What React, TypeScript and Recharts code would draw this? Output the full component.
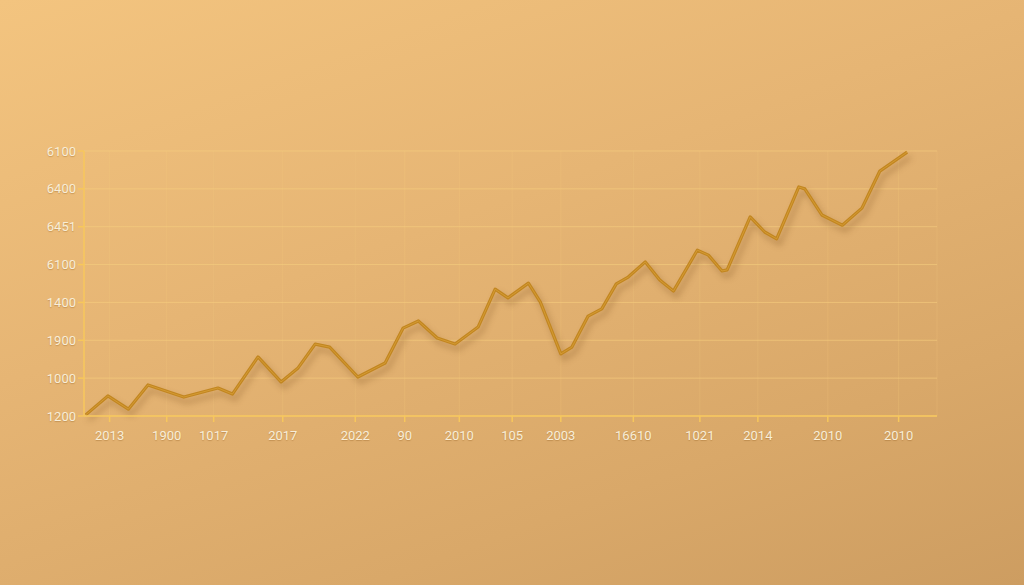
import React from "react";
import { LineChart, Line, XAxis, YAxis, CartesianGrid } from "recharts";

// x positions (0..100 along the axis) and values (0..7 on the grid scale)
const xPos = [0.2, 2.8, 5.2, 7.5, 11.7, 15.7, 17.4, 20.4, 23.1, 25.1, 27.1, 28.8, 32.1, 35.3, 37.4, 39.2, 41.4, 43.5, 46.2, 48.2, 49.7, 52.1, 53.5, 55.9, 57.2, 59.1, 60.7, 62.4, 63.8, 65.8, 67.5, 69.1, 71.9, 73.2, 74.8, 75.4, 78.1, 79.8, 81.2, 83.8, 84.5, 86.5, 88.9, 91.2, 93.3, 96.5];
const values = [0.03, 0.53, 0.18, 0.82, 0.5, 0.74, 0.58, 1.56, 0.9, 1.27, 1.9, 1.82, 1.03, 1.4, 2.32, 2.51, 2.06, 1.9, 2.35, 3.35, 3.12, 3.51, 3.01, 1.64, 1.82, 2.64, 2.83, 3.49, 3.67, 4.07, 3.59, 3.3, 4.38, 4.25, 3.83, 3.86, 5.26, 4.86, 4.68, 6.05, 6.0, 5.31, 5.04, 5.49, 6.47, 6.97];

const xTickPos = [3.0, 9.7, 15.2, 23.3, 31.8, 37.6, 44.0, 50.2, 55.9, 64.4, 72.2, 79.0, 87.2, 95.5];
const xTickLabels = ["2013", "1900", "1017", "2017", "2022", "90", "2010", "105", "2003", "16610", "1021", "2014", "2010", "2010"];

const yTicks = [0, 1, 2, 3, 4, 5, 6, 7];
const leftLabels = ["1200", "1000", "1900", "1400", "6100", "6451", "6400", "6100"];
const rightLabels = ["0", "0", "0", "5", "4", "6", "8", "0"];

const data = xPos.map((x, i) => ({ x, v: values[i] }));

const tickStyle = {
  fill: "#f8eed8",
  fontSize: 13,
  fontFamily: "Roboto, 'Open Sans', sans-serif",
};

export default function App() {
  return (
    <div
      style={{
        position: "absolute",
        left: 0,
        top: 0,
        width: 1024,
        height: 585,
        overflow: "hidden",
        background: "linear-gradient(160deg, #f3c47f 0%, #e6b574 40%, #d9a869 75%, #cd9d61 100%)",
      }}
    >
      <style>{`
        .recharts-cartesian-axis-tick-value { text-shadow: 0 1px 1px rgba(140,90,30,0.35); }
        .shadowline .recharts-line-curve { filter: drop-shadow(3px 5px 3px rgba(110,65,20,0.38)); }
      `}</style>
      <LineChart
        width={1024}
        height={585}
        data={data}
        margin={{ top: 151, right: 57, bottom: 139, left: 44 }}
      >
        <CartesianGrid
          yAxisId="left"
          stroke="#f6cf7e"
          strokeOpacity={0.6}
          strokeWidth={1}
          vertical={false}
          horizontal={true}
        />
        <CartesianGrid
          yAxisId="left"
          stroke="#f6cf7e"
          strokeOpacity={0.22}
          strokeWidth={1}
          vertical={true}
          horizontal={false}
        />
        <XAxis
          dataKey="x"
          type="number"
          domain={[0, 100]}
          ticks={xTickPos}
          tickFormatter={(v: number) => {
            const i = xTickPos.indexOf(v);
            return i >= 0 ? xTickLabels[i] : "";
          }}
          height={30}
          stroke="#f7c75c"
          strokeWidth={1.5}
          tickSize={6}
          tickMargin={9}
          tick={tickStyle}
          interval={0}
        />
        <YAxis
          yAxisId="left"
          orientation="left"
          domain={[0, 7]}
          ticks={yTicks}
          tickFormatter={(v: number) => leftLabels[v]}
          width={40}
          stroke="#f7c75c"
          strokeWidth={1.5}
          tickSize={6}
          tickMargin={2}
          tick={tickStyle}
          interval={0}
        />
        <YAxis
          yAxisId="right"
          orientation="right"
          domain={[0, 7]}
          ticks={yTicks}
          tickFormatter={(v: number) => rightLabels[v]}
          width={30}
          axisLine={false}
          tickLine={false}
          tickMargin={5}
          tick={tickStyle}
          interval={0}
        />
        <Line
          className="shadowline"
          yAxisId="left"
          type="linear"
          dataKey="v"
          stroke="#c28620"
          strokeWidth={3.2}
          strokeLinejoin="round"
          dot={false}
          isAnimationActive={false}
        />
        <Line
          yAxisId="left"
          type="linear"
          dataKey="v"
          stroke="#dca33a"
          strokeOpacity={0.7}
          strokeWidth={1}
          dot={false}
          isAnimationActive={false}
        />
      </LineChart>
    </div>
  );
}
